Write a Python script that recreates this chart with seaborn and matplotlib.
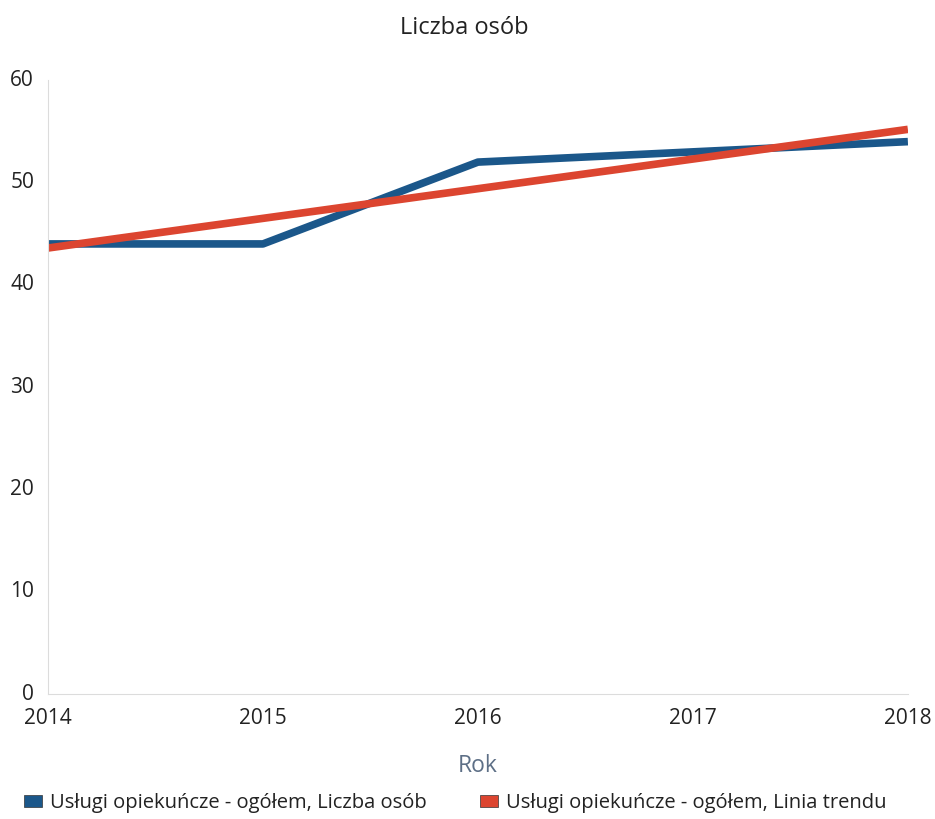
import matplotlib
matplotlib.use("Agg")
import matplotlib.pyplot as plt
from matplotlib.patches import Patch
import seaborn as sns
import pandas as pd

years = [2014, 2015, 2016, 2017, 2018]
liczba_osob = [44, 44, 52, 53, 54]
linia_trendu = [43.6, 46.5, 49.4, 52.3, 55.2]
series_names = ["Usługi opiekuńcze - ogółem, Liczba osób",
                "Usługi opiekuńcze - ogółem, Linia trendu"]
y_ticks = [0, 10, 20, 30, 40, 50, 60]
colors = ["#1b578a", "#dc4530"]

df = pd.DataFrame({
    "Rok": years * 2,
    "value": liczba_osob + linia_trendu,
    "series": [series_names[0]] * len(years) + [series_names[1]] * len(years),
})

sns.set_theme(style="white")
plt.rcParams["font.family"] = ["Open Sans", "DejaVu Sans"]

fig = plt.figure(figsize=(9.35, 8.19), dpi=100)
ax = fig.add_axes([0.0513, 0.1526, 0.9197, 0.7494])

sns.lineplot(data=df, x="Rok", y="value", hue="series", palette=colors,
             linewidth=5.5, ax=ax, legend=False, solid_capstyle="butt")

ax.set_xlim(years[0], years[-1])
ax.set_ylim(0, 60)
ax.set_xticks(years)
ax.set_xticklabels([str(y) for y in years])
ax.set_yticks(y_ticks)
for s in ["top", "right"]:
    ax.spines[s].set_visible(False)
for s in ["left", "bottom"]:
    ax.spines[s].set_color("#dcdcdc")
    ax.spines[s].set_linewidth(0.8)
    ax.spines[s].set_linestyle((0, (1, 1)))
ax.tick_params(axis="both", length=0, labelsize=15, colors="#222222")
ax.tick_params(axis="y", pad=10)
ax.tick_params(axis="x", pad=10)
for lbl in ax.get_yticklabels():
    lbl.set_verticalalignment("center")

ax.set_ylabel("")
ax.set_xlabel("Rok", fontsize=16.5, color="#5d6f86", labelpad=18)
fig.text(0.497, 0.966, "Liczba osób", ha="center", va="center", fontsize=17, color="#222222")

handles = [Patch(facecolor=c, edgecolor="#333333", linewidth=0.5) for c in colors]
fig.legend(handles, series_names, loc="center", bbox_to_anchor=(0.487, 0.019),
           ncol=2, frameon=False, fontsize=14.5, handlelength=0.9, handleheight=0.55,
           handletextpad=0.4, columnspacing=2.65, labelcolor="#222222")

fig.savefig("out.png", dpi=100)
